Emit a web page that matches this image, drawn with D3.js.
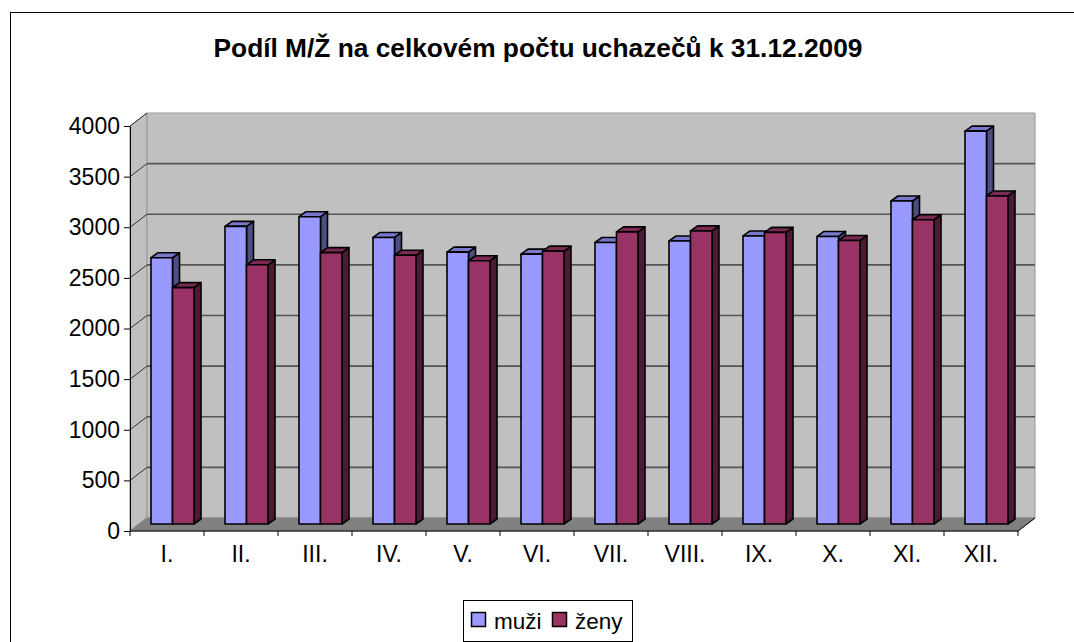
<!DOCTYPE html>
<html>
<head>
<meta charset="utf-8">
<script src="https://cdnjs.cloudflare.com/ajax/libs/d3/7.8.5/d3.min.js"></script>
<style>
  body { margin: 0; background: #fff; }
  text { font-family: "Liberation Sans", Arial, sans-serif; }
</style>
</head>
<body>
<div id="chart"></div>
<script>
// data
const months = ["I.", "II.", "III.", "IV.", "V.", "VI.", "VII.", "VIII.", "IX.", "X.", "XI.", "XII."]
const muzi = [2630, 2940, 3035, 2830, 2685, 2665, 2780, 2795, 2845, 2840, 3190, 3880]
const zeny = [2335, 2560, 2680, 2655, 2600, 2695, 2885, 2895, 2880, 2800, 3005, 3240]
const yTicks = [0, 500, 1000, 1500, 2000, 2500, 3000, 3500, 4000]
const seriesNames = ["muži", "ženy"]
const title = "Podíl M/Ž na celkovém počtu uchazečů k 31.12.2009"

const w = 1074
const h = 642

// 3d look: wall depth, bar position in depth, bar thickness
const wall = { dx: 17, dy: -13 }
const barOff = { dx: 9, dy: -7 }
const barDepth = { dx: 7, dy: -5 }

const colors = {
    front: ["#9999ff", "#993366"],
    top: ["#7878cc", "#7a2952"],
    side: ["#4d4d80", "#4d1a33"]
}

var svg = d3.select("#chart").append("svg")
    .attr("width", w).attr("height", h)

// frame
svg.append("rect")
    .attr("x", 10.5).attr("y", 12.5)
    .attr("width", 1100).attr("height", 700)
    .attr("fill", "#fff").attr("stroke", "#000")

svg.append("text")
    .attr("x", 538).attr("y", 57)
    .attr("text-anchor", "middle")
    .attr("font-size", 26.3).attr("font-weight", "bold")
    .text(title)

var y = d3.scaleLinear().domain([0, 4000]).range([531, 126])
var x = d3.scaleBand().domain(months).range([130, 1018])
var sub = d3.scaleBand().domain(seriesNames).range([0, 43])

const x0 = x.range()[0], x1 = x.range()[1]
const yb = y(0), yt = y(4000)

function pts(a) { return a.map(function(p) { return p.join(",") }).join(" ") }

// left wall
svg.append("polygon")
    .attr("points", pts([[x0, yb], [x0 + wall.dx, yb + wall.dy], [x0 + wall.dx, yt + wall.dy], [x0, yt]]))
    .attr("fill", "#c0c0c0").attr("stroke", "#8a8a8a")
// back wall
svg.append("polygon")
    .attr("points", pts([[x0 + wall.dx, yb + wall.dy], [x1 + wall.dx, yb + wall.dy], [x1 + wall.dx, yt + wall.dy], [x0 + wall.dx, yt + wall.dy]]))
    .attr("fill", "#c0c0c0").attr("stroke", "#9a9a9a")
// floor
svg.append("polygon")
    .attr("points", pts([[x0, yb], [x1, yb], [x1 + wall.dx, yb + wall.dy], [x0 + wall.dx, yb + wall.dy]]))
    .attr("fill", "#808080").attr("stroke", "#808080")
svg.append("line")
    .attr("x1", x1).attr("y1", yb).attr("x2", x1 + wall.dx).attr("y2", yb + wall.dy)
    .attr("stroke", "#000")

// gridlines
var grid = svg.append("g")
yTicks.filter(function(t) { return t > 0 }).forEach(function(t) {
    grid.append("line")
        .attr("x1", x0).attr("y1", y(t))
        .attr("x2", x0 + wall.dx).attr("y2", y(t) + wall.dy)
        .attr("stroke", "#333").attr("stroke-width", 1)
    if (t < 4000) {
        grid.append("line")
            .attr("x1", x0 + wall.dx).attr("y1", y(t) + wall.dy)
            .attr("x2", x1 + wall.dx).attr("y2", y(t) + wall.dy)
            .attr("stroke", "#555").attr("stroke-width", 1.6)
    }
})

// y axis
var yAxis = svg.append("g")
    .attr("transform", "translate(" + x0 + ",0)")
    .call(d3.axisLeft(y).tickValues(yTicks).tickFormat(d3.format("d"))
        .tickSize(6).tickSizeOuter(0).tickPadding(4))
yAxis.selectAll("text").attr("font-size", 23).attr("fill", "#000")
    .style("font-family", "'Liberation Sans', Arial, sans-serif")
yAxis.selectAll("line, path").attr("stroke", "#000")

// x axis labels
var xAxis = svg.append("g")
    .attr("transform", "translate(0," + yb + ")")
    .call(d3.axisBottom(x).tickSize(0).tickPadding(15))
xAxis.select(".domain").remove()
xAxis.selectAll("text").attr("font-size", 23).attr("fill", "#000")
    .style("font-family", "'Liberation Sans', Arial, sans-serif")
// x axis line and boundary ticks
svg.append("line")
    .attr("x1", x0).attr("y1", yb).attr("x2", x1).attr("y2", yb)
    .attr("stroke", "#000")
var bounds = months.map(function(m) { return x(m) }).concat([x1])
svg.selectAll(".xtick").data(bounds).enter().append("line")
    .attr("class", "xtick")
    .attr("x1", function(d) { return d }).attr("x2", function(d) { return d })
    .attr("y1", yb).attr("y2", yb + 5)
    .attr("stroke", "#000")

// bars
var groupShift = (x.bandwidth() - (sub.range()[1] + barDepth.dx)) / 2
var bars = []
months.forEach(function(m, i) {
    bars.push({ m: m, s: 0, v: muzi[i] })
    bars.push({ m: m, s: 1, v: zeny[i] })
})

var barG = svg.selectAll(".bar").data(bars).enter().append("g")
    .attr("class", "bar")
    .attr("stroke", "#000").attr("stroke-width", 1.6).attr("stroke-linejoin", "round")

barG.each(function(d) {
    var g = d3.select(this)
    var bx = x(d.m) + groupShift + sub(seriesNames[d.s]) + barOff.dx
    var bw = sub.bandwidth()
    var top = y(d.v) + barOff.dy
    var bot = y(0) + barOff.dy
    g.append("polygon")
        .attr("points", pts([[bx + bw, top], [bx + bw + barDepth.dx, top + barDepth.dy], [bx + bw + barDepth.dx, bot + barDepth.dy], [bx + bw, bot]]))
        .attr("fill", colors.side[d.s])
    g.append("polygon")
        .attr("points", pts([[bx, top], [bx + bw, top], [bx + bw + barDepth.dx, top + barDepth.dy], [bx + barDepth.dx, top + barDepth.dy]]))
        .attr("fill", colors.top[d.s])
    g.append("rect")
        .attr("x", bx).attr("y", top)
        .attr("width", bw).attr("height", bot - top)
        .attr("fill", colors.front[d.s])
})

// legend
var legend = svg.append("g")
legend.append("rect")
    .attr("x", 463.5).attr("y", 600.5).attr("width", 169).attr("height", 41)
    .attr("fill", "#fff").attr("stroke", "#000")
var legX = [471, 552]
seriesNames.forEach(function(s, i) {
    legend.append("rect")
        .attr("x", legX[i] + 0.5).attr("y", 612.5).attr("width", 14).attr("height", 14)
        .attr("fill", colors.front[i]).attr("stroke", "#000").attr("stroke-width", 1.5)
    legend.append("text")
        .attr("x", legX[i] + 23).attr("y", 629)
        .attr("font-size", 22.5)
        .text(s)
})
</script>
</body>
</html>
